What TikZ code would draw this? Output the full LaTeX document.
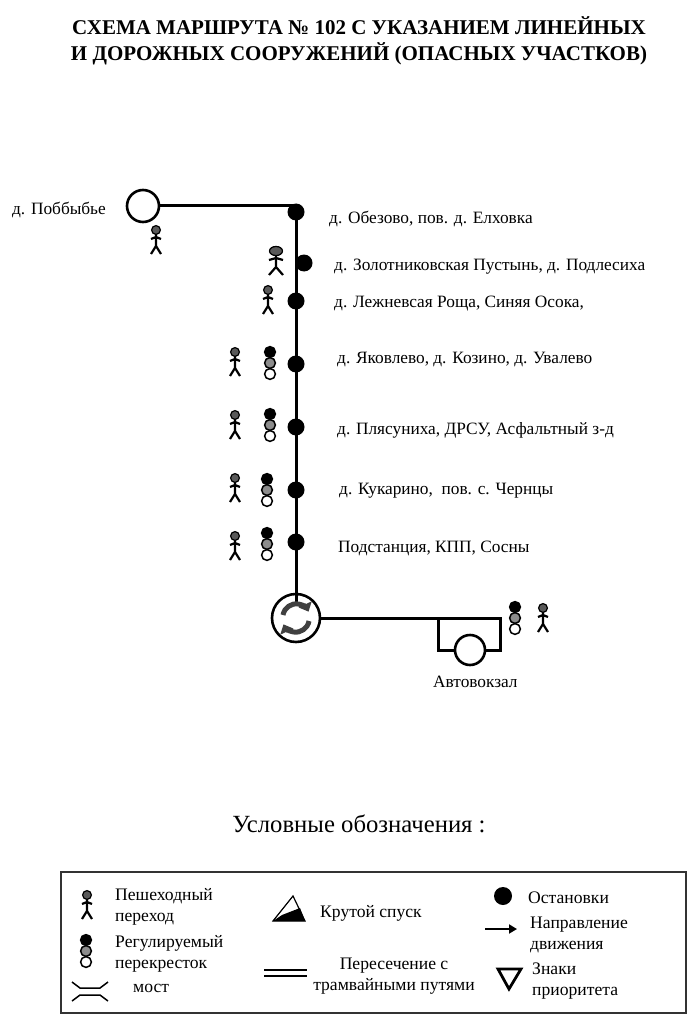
\documentclass[tikz,border=0pt]{standalone}
\usepackage{fontspec}
\setmainfont{Liberation Serif}
\usetikzlibrary{arrows.meta}
\tikzset{
  route/.style={line width=3pt,line join=miter},
  stop/.style={circle,fill=black,inner sep=0pt,minimum size=17pt},
  terminal/.style={circle,draw,line width=2.6pt,fill=white,inner sep=0pt},
  lbl/.style={anchor=west,inner sep=0pt,yshift=-2pt,font=\fontsize{17.3}{20}\selectfont},
  leg/.style={anchor=west,inner sep=0pt,yshift=-2pt,align=left,font=\fontsize{17.6}{21.5}\selectfont},
  turn/.style={line width=5pt,black!75,-{Triangle[length=8pt,width=14pt]}},
  pics/walker/.style={code={
    \draw[line width=2.2pt] (0,-6) -- (0,6) -- (-5,14) (0,6) -- (5,14) (-5,-1) -- (0,-3) -- (5,-1);
    \draw[line width=1.2pt,fill=black!65] (0,-10) circle (4.4);
  }},
  pics/lights/.style={code={
    \draw[line width=1.5pt,fill=white] (0,11) circle (5.4);
    \draw[line width=1.5pt,fill=black!45] (0,0) circle (5.4);
    \draw[line width=1.5pt,fill=black] (0,-11) circle (5.4);
  }}
}
\begin{document}
\begin{tikzpicture}[x=1pt,y=-1pt]
\useasboundingbox (0,0) rectangle (696,1024);
\node[font=\bfseries\fontsize{21}{26}\selectfont,align=center] (title) at (359,41)
  {СХЕМА МАРШРУТА № 102 С УКАЗАНИЕМ ЛИНЕЙНЫХ\\И ДОРОЖНЫХ СООРУЖЕНИЙ (ОПАСНЫХ УЧАСТКОВ)};
% route
\node[terminal,minimum size=32pt] (start) at (143,206) {};
\node[terminal,minimum size=30pt] (bus) at (470,650) {};
\node[circle,draw,line width=2.6pt,inner sep=0pt,minimum size=48pt] (ring) at (296,618) {};
\coordinate (bend) at (296,206);
\coordinate (ringin) at (296,604);
\coordinate (corner) at (500,618);
\coordinate (left) at (438,618);
\draw[route] (start) -- (bend) -- (ringin);
\draw[route] (ring.east) -- (corner) |- (bus);
\draw[route] (left) |- (bus);
\draw[turn] (283,615) arc (-170:-25:13.5);
\draw[turn] (309,621) arc (10:155:13.5);
% stops
\foreach \n/\x/\y in {1/296/212,2/304/263,3/296/301,4/296/364,5/296/427,6/296/490,7/296/542}
  \node[stop] (stop\n) at (\x,\y) {};
\foreach \x/\y in {156/240,268/300,235/362,235/425,235/488,235/546,543/618,87/905}
  \pic at (\x,\y) {walker};
\pic[xscale=1.4] at (276,261) {walker};
\draw[line width=1.2pt,fill=black!65] (276,251) ellipse (6.5 and 4.5);
\foreach \x/\y in {270/363,270/425,267/490,267/544,515/618,86/951}
  \pic at (\x,\y) {lights};
% labels
\node[lbl,anchor=east] (name0) at (106,208) {д. Поббыбье};
\node[lbl] (name1) at (329,217) {д. Обезово, пов. д. Елховка};
\node[lbl] (name2) at (334,265) {д. Золотниковская Пустынь, д. Подлесиха};
\node[lbl] (name3) at (334,302) {д. Лежневсая Роща, Синяя Осока,};
\node[lbl] (name4) at (337,358) {д. Яковлево, д. Козино, д. Увалево};
\node[lbl] (name5) at (337,428) {д. Плясуниха, ДРСУ, Асфальтный з-д};
\node[lbl] (name6) at (339,489) {д. Кукарино,\ \ пов. с. Чернцы};
\node[lbl] (name7) at (338,546) {Подстанция, КПП, Сосны};
\node[lbl] (name8) at (433,680) {Автовокзал};
% legend
\node[font=\fontsize{24.7}{28}\selectfont] (legtitle) at (359,824) {Условные обозначения :};
\draw[line width=1.8pt,black!80] (61,872) rectangle (686,1013);
\node[leg] (leg1) at (115,905) {Пешеходный\\переход};
\node[leg] (leg2) at (115,952) {Регулируемый\\перекресток};
\node[leg] (leg3) at (133,986) {мост};
\node[leg] (leg4) at (320,911) {Крутой спуск};
\node[leg,align=center,anchor=center] (leg5) at (394,974) {Пересечение с\\трамвайными путями};
\node[stop,minimum size=18pt] (legstop) at (503,896) {};
\node[leg] (leg6) at (528,896) {Остановки};
\node[leg] (leg7) at (530,933) {Направление\\движения};
\node[leg] (leg8) at (532,979) {Знаки\\приоритета};
\coordinate (arrowa) at (485,929);
\coordinate (arrowb) at (517,929);
\draw[line width=1.8pt,-{Triangle[length=8pt,width=9pt]}] (arrowa) -- (arrowb);
\draw[line width=1.2pt] (293,896) -- (273,921) -- (305,921) -- cycle;
\fill (273,921) -- (305,921) -- (300,908) -- (282,915) -- cycle;
\draw[line width=1.8pt] (264,970) -- (307,970) (264,976) -- (307,976);
\draw[line width=1.5pt] (72,982) -- (80,988) -- (100,988) -- (108,982) (72,1001) -- (80,995) -- (100,995) -- (108,1001);
\draw[line width=2.8pt,line join=miter] (498,969) -- (521,969) -- (509,989) -- cycle;
\end{tikzpicture}
\end{document}
